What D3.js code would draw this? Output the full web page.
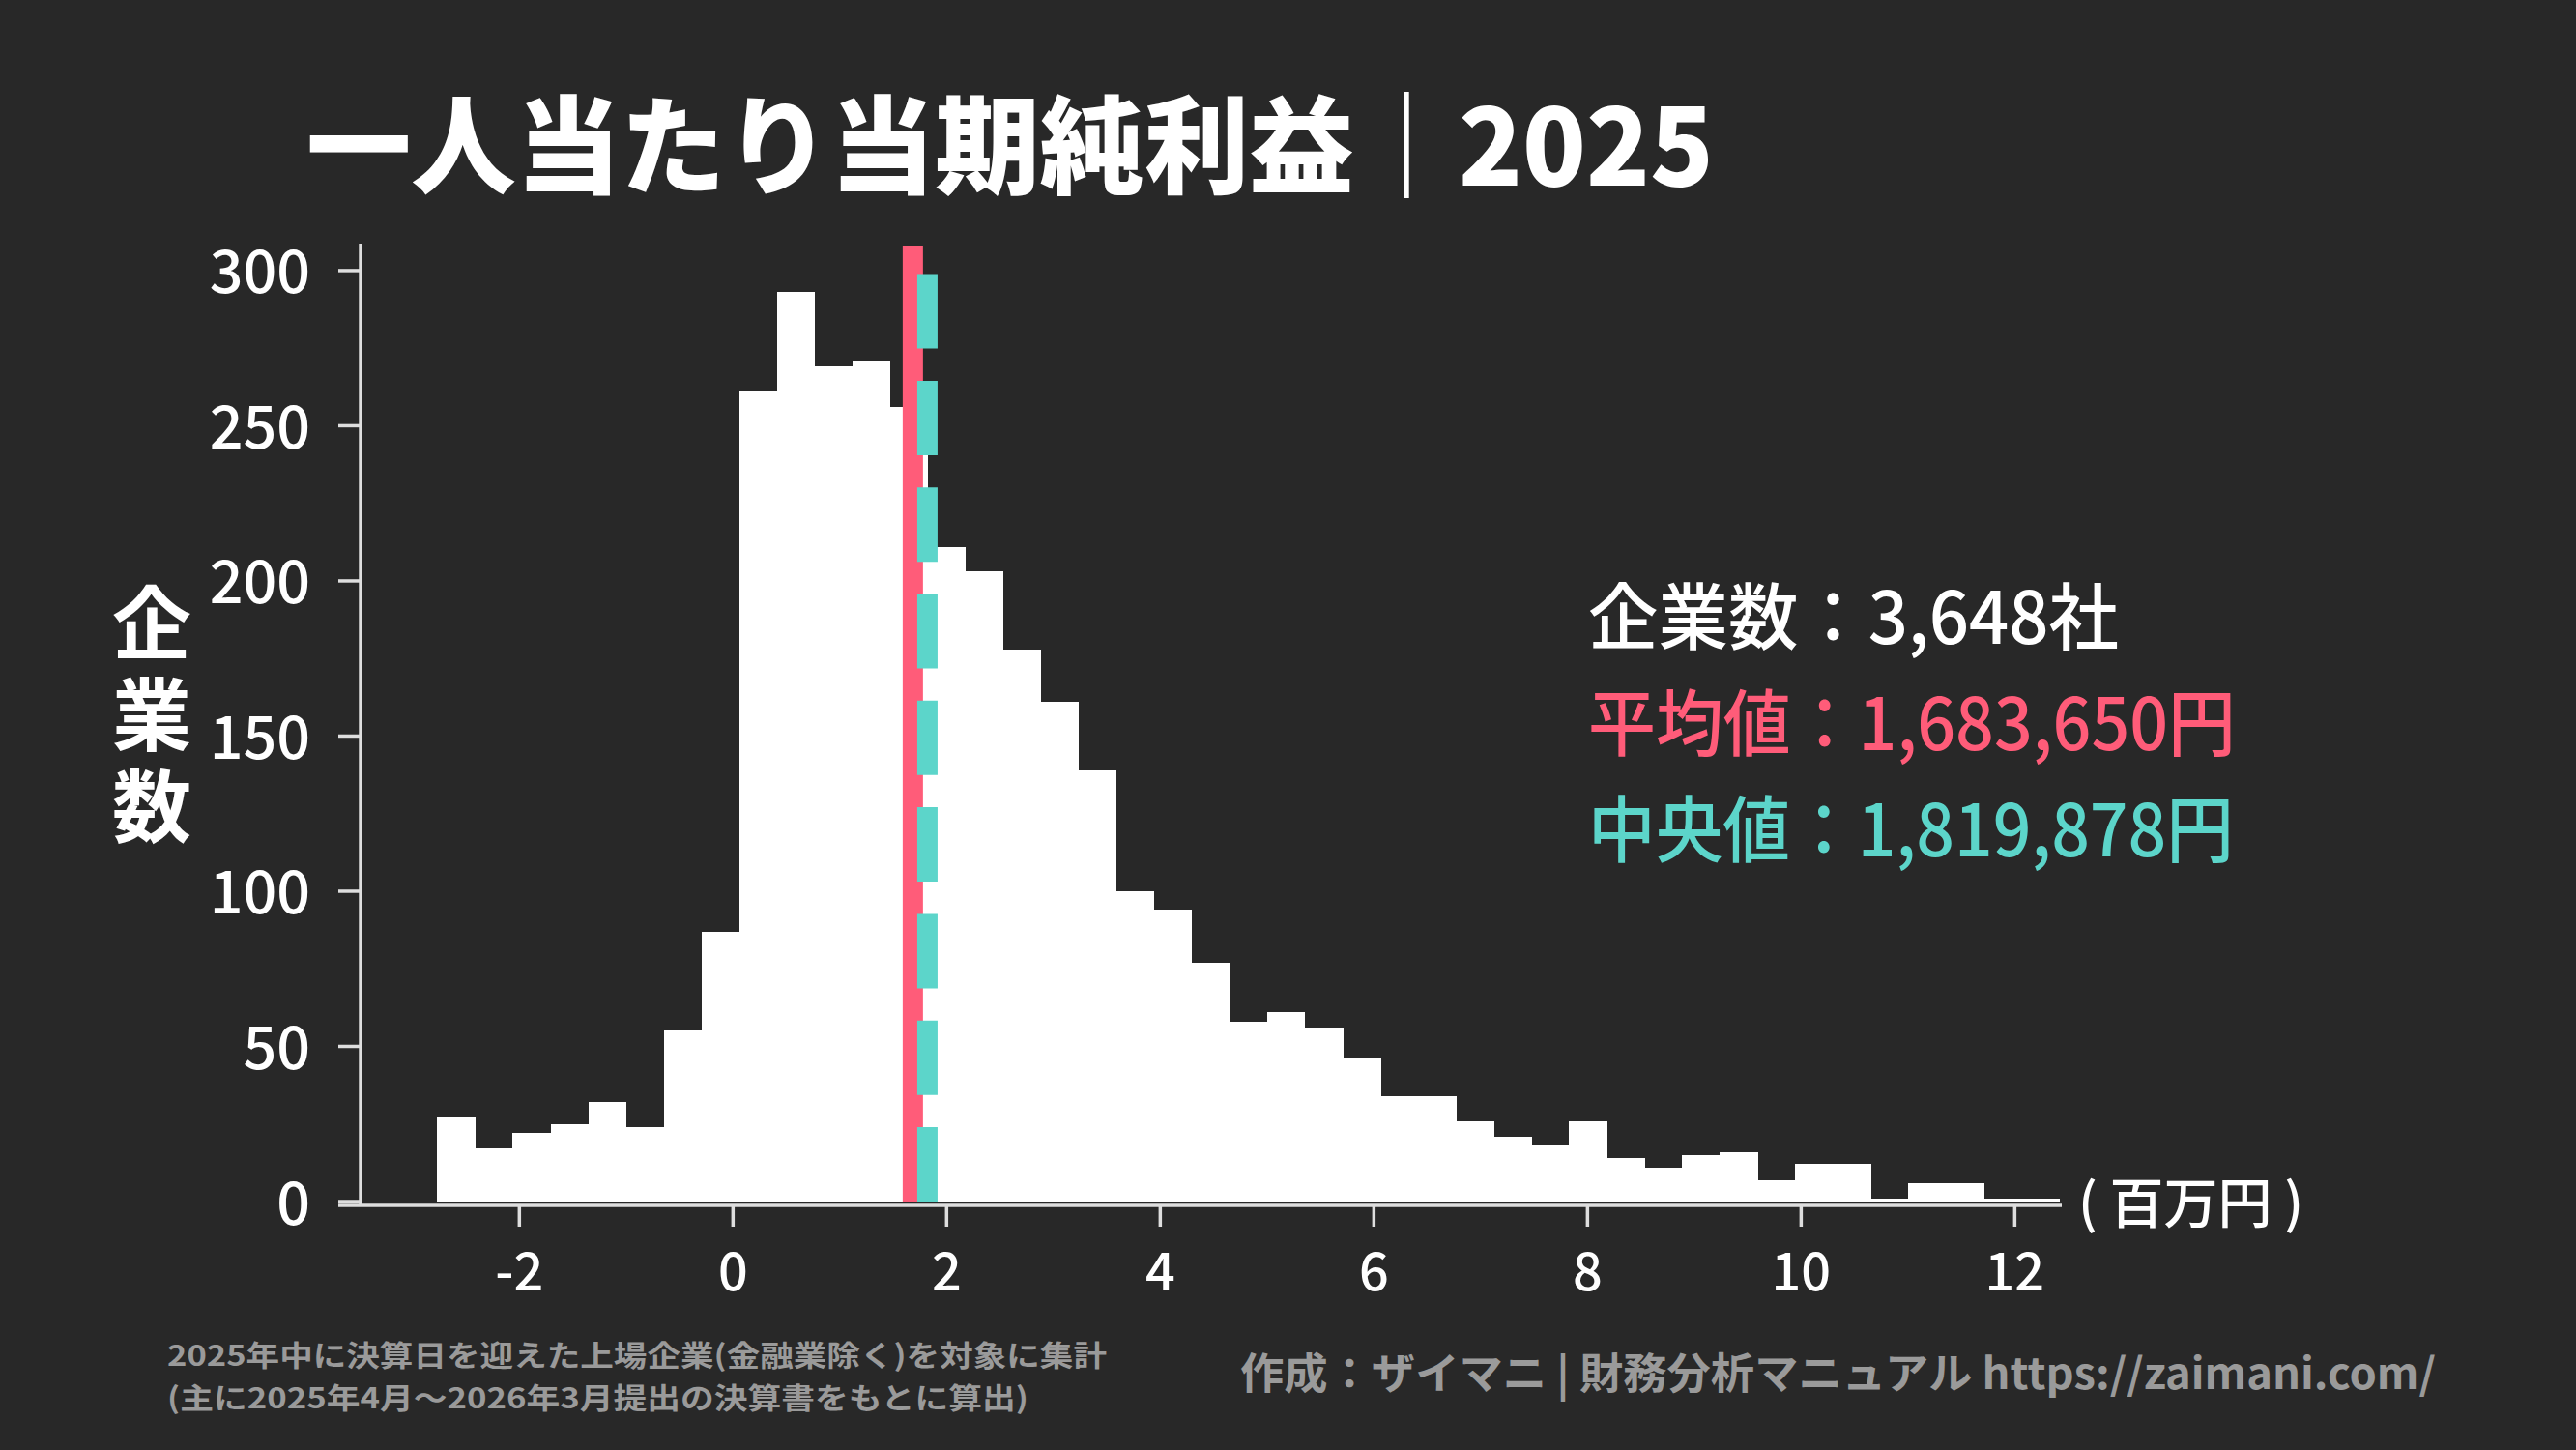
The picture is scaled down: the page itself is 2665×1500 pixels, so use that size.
<!DOCTYPE html>
<html>
<head>
<meta charset="utf-8">
<script src="https://cdn.jsdelivr.net/npm/d3@7"></script>
<style>
  html, body { margin: 0; padding: 0; background: #282828; }
  text { font-family: "Noto Sans CJK JP", "Noto Sans", sans-serif; }
</style>
</head>
<body>
<div id="chart"></div>
<script>
// histogram counts (companies per bin, millions of yen per head)
const binStart = -2.768;
const binWidth = 0.3531;
const counts = [27, 17, 22, 25, 32, 24, 55, 87, 261, 293, 269, 271, 256, 211, 203,
    178, 161, 139, 100, 94, 77, 58, 61, 56, 46, 34, 34, 26, 21, 18,
    26, 14, 11, 15, 16, 7, 12, 12, 1, 6, 6, 1, 1];
const meanValue = 1.683650;
const medianValue = 1.819878;
const xTicks = [-2, 0, 2, 4, 6, 8, 10, 12];
const yTicks = [0, 50, 100, 150, 200, 250, 300];
const yLabel = '企業数';
const statLines = [
    { label: '企業数：', value: '3,648社', color: '#ffffff' },
    { label: '平均値：', value: '1,683,650円', color: '#ff5c79' },
    { label: '中央値：', value: '1,819,878円', color: '#5cd5ca' }
];
const footNotes = [
    '2025年中に決算日を迎えた上場企業(金融業除く)を対象に集計',
    '(主に2025年4月〜2026年3月提出の決算書をもとに算出)'
];

const width = 2665;
const height = 1500;
const bg = '#282828';
const axisColor = '#dedede';

const svg = d3.select('#chart')
    .append('svg')
    .attr('width', width)
    .attr('height', height)
    .attr('viewBox', [0, 0, width, height]);

svg.append('rect')
    .attr('width', width)
    .attr('height', height)
    .attr('fill', bg);

const x = d3.scaleLinear().domain([-3.487, 12.44]).range([373, 2133]);
const y = d3.scaleLinear().domain([0, 308.7]).range([1243, 252]);

const bins = counts.map((c, i) => ({
    x0: binStart + i * binWidth,
    x1: binStart + (i + 1) * binWidth,
    count: c
}));

// bars
svg.append('g')
    .selectAll('rect')
    .data(bins)
    .join('rect')
        .attr('x', d => x(d.x0))
        .attr('width', d => x(d.x1) - x(d.x0) + 0.6)
        .attr('y', d => y(d.count))
        .attr('height', d => y(0) - y(d.count))
        .attr('fill', '#ffffff')
        .attr('shape-rendering', 'crispEdges');

// mean line
svg.append('line')
    .attr('x1', x(meanValue)).attr('x2', x(meanValue))
    .attr('y1', y(0)).attr('y2', y.range()[1] + 3)
    .attr('stroke', '#ff5c79')
    .attr('stroke-width', 21);

// median line (dashed, starts at bottom)
svg.append('line')
    .attr('x1', x(medianValue)).attr('x2', x(medianValue))
    .attr('y1', y(0)).attr('y2', y.range()[1] + 3)
    .attr('stroke', '#5cd5ca')
    .attr('stroke-width', 21)
    .attr('stroke-dasharray', '77 33.3');

// y axis
const yAxis = svg.append('g');
yAxis.append('line')
    .attr('x1', 373).attr('x2', 373)
    .attr('y1', 252).attr('y2', 1248)
    .attr('stroke', axisColor).attr('stroke-width', 3.5);
yAxis.selectAll('line.tick')
    .data(yTicks)
    .join('line')
        .attr('class', 'tick')
        .attr('x1', 350).attr('x2', 373)
        .attr('y1', d => y(d)).attr('y2', d => y(d))
        .attr('stroke', axisColor).attr('stroke-width', 3.5);
yAxis.selectAll('text')
    .data(yTicks)
    .join('text')
        .attr('x', 321)
        .attr('y', d => y(d) - 3)
        .attr('text-anchor', 'end')
        .attr('dominant-baseline', 'central')
        .attr('fill', '#ffffff')
        .style('font-size', '61px')
        .style('font-weight', 500)
        .text(d => d);

// x axis
const xAxis = svg.append('g');
xAxis.append('line')
    .attr('x1', 350).attr('x2', 2133)
    .attr('y1', 1247).attr('y2', 1247)
    .attr('stroke', axisColor).attr('stroke-width', 3.5);
xAxis.selectAll('line.tick')
    .data(xTicks)
    .join('line')
        .attr('class', 'tick')
        .attr('x1', d => x(d)).attr('x2', d => x(d))
        .attr('y1', 1247).attr('y2', 1269)
        .attr('stroke', axisColor).attr('stroke-width', 3.5);
xAxis.selectAll('text')
    .data(xTicks)
    .join('text')
        .attr('x', d => x(d))
        .attr('y', 1335)
        .attr('text-anchor', 'middle')
        .attr('fill', '#ffffff')
        .style('font-size', '54px')
        .style('font-weight', 500)
        .text(d => d);

svg.append('text')
    .attr('x', 2150)
    .attr('y', 1240)
    .attr('dominant-baseline', 'central')
    .attr('fill', '#ffffff')
    .style('font-size', '56px')
    .style('font-weight', 500)
    .text('( 百万円 )');

// y label, vertical writing
svg.append('text')
    .attr('x', 157)
    .attr('y', 745)
    .attr('text-anchor', 'middle')
    .attr('fill', '#ffffff')
    .style('writing-mode', 'vertical-rl')
    .style('letter-spacing', '13px')
    .style('font-size', '82px')
    .style('font-weight', 700)
    .text(yLabel);

// title
svg.append('text')
    .attr('x', 317)
    .attr('y', 192)
    .attr('fill', '#ffffff')
    .attr('textLength', 1456)
    .attr('lengthAdjust', 'spacingAndGlyphs')
    .style('font-size', '110px')
    .style('font-weight', 900)
    .text('一人当たり当期純利益｜2025');

// stats block
const statWidths = [549, 670, 668];
svg.append('g')
    .selectAll('text')
    .data(statLines)
    .join('text')
        .attr('x', 1643)
        .attr('y', (d, i) => 666 + i * 110)
        .attr('fill', d => d.color)
        .attr('textLength', (d, i) => statWidths[i])
        .attr('lengthAdjust', 'spacingAndGlyphs')
        .style('font-size', '75px')
        .style('font-weight', 500)
        .text(d => d.label + d.value);

// footer
const footGray = '#9a9a9a';
const footWidths = [972, 891];
svg.append('g')
    .selectAll('text')
    .data(footNotes)
    .join('text')
        .attr('x', 173)
        .attr('y', (d, i) => 1413 + i * 44)
        .attr('fill', footGray)
        .attr('textLength', (d, i) => footWidths[i])
        .attr('lengthAdjust', 'spacingAndGlyphs')
        .style('font-size', '30px')
        .style('font-weight', 700)
        .text(d => d);
svg.append('text')
    .attr('x', 1283).attr('y', 1437)
    .attr('fill', footGray)
    .attr('textLength', 1237)
    .attr('lengthAdjust', 'spacingAndGlyphs')
    .style('font-size', '44px')
    .style('font-weight', 700)
    .text('作成：ザイマニ | 財務分析マニュアル https://zaimani.com/');
</script>
</body>
</html>
